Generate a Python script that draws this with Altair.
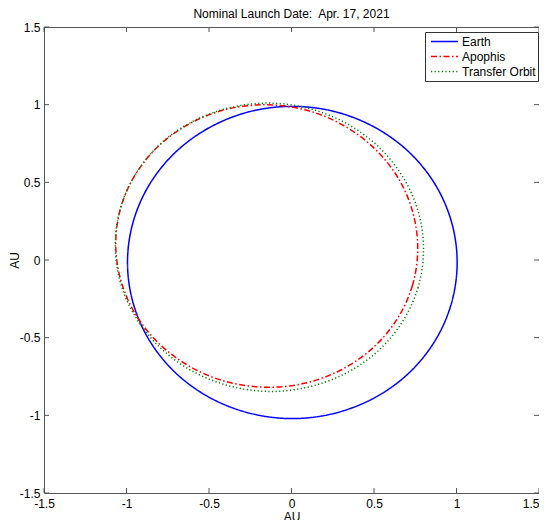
import altair as alt
import pandas as pd

# ---- data (AU), counter-clockwise ----
earth_x = [1.004, 0.97, 0.871, 0.712, 0.505, 0.264, 0.005, -0.254, -0.495, -0.702, -0.861, -0.96,
           -0.994, -0.96, -0.861, -0.702, -0.495, -0.254, 0.005, 0.264, 0.505, 0.712, 0.871, 0.97]
earth_y = [-0.016, 0.244, 0.486, 0.695, 0.854, 0.955, 0.989, 0.955, 0.854, 0.695, 0.486, 0.244,
           -0.016, -0.276, -0.518, -0.727, -0.886, -0.986, -1.021, -0.986, -0.886, -0.727, -0.518, -0.276]

apophis_x = [0.638, 0.732, 0.765, 0.736, 0.648, 0.504, 0.316, 0.096, -0.14, -0.378, -0.599, -0.79,
             -0.938, -1.032, -1.065, -1.036, -0.948, -0.804, -0.616, -0.396, -0.16, 0.078, 0.299, 0.49]
apophis_y = [-0.384, -0.167, 0.068, 0.304, 0.525, 0.717, 0.866, 0.963, 0.999, 0.974, 0.888, 0.749,
             0.564, 0.347, 0.112, -0.124, -0.345, -0.537, -0.686, -0.783, -0.819, -0.794, -0.708, -0.569]

transfer_x = [0.67, 0.766, 0.8, 0.771, 0.68, 0.534, 0.342, 0.118, -0.124, -0.365, -0.592, -0.788,
              -0.938, -1.034, -1.068, -1.039, -0.948, -0.802, -0.61, -0.386, -0.144, 0.097, 0.324, 0.52]
transfer_y = [-0.401, -0.18, 0.06, 0.301, 0.526, 0.722, 0.874, 0.972, 1.01, 0.983, 0.896, 0.754,
              0.565, 0.344, 0.104, -0.137, -0.362, -0.558, -0.71, -0.808, -0.846, -0.819, -0.732, -0.59]

series_names = ["Earth", "Apophis", "Transfer Orbit"]
series_colors = ["#0000FF", "#FF0000", "#008000"]
series_dash = [[1, 0], [6, 2.5, 1.5, 2.5], [1.2, 2.4]]
tick_values = [-1.5, -1.0, -0.5, 0.0, 0.5, 1.0, 1.5]

# ---- build tables ----
rows = []
for name, xs, ys in zip(series_names, [earth_x, apophis_x, transfer_x], [earth_y, apophis_y, transfer_y]):
    for i, (a, b) in enumerate(zip(xs, ys)):
        rows.append({"x": a, "y": b, "series": name, "order": i})
df = pd.DataFrame(rows)
ticks_df = pd.DataFrame({"x": tick_values, "y": tick_values})

W, H = 495, 466
FONT = "Liberation Sans"

xscale = alt.Scale(domain=[-1.5, 1.5], nice=False, zero=False)
yscale = alt.Scale(domain=[-1.5, 1.5], nice=False, zero=False)
xaxis = alt.Axis(values=tick_values, title="AU", grid=False, domain=False, ticks=False,
                 labelFlush=False, labelPadding=5, titlePadding=2,
                 labelExpr="'' + datum.value", labelOverlap=False,
                 labelAlign=alt.condition("datum.value == 1.5", alt.value("right"), alt.value("center")))
yaxis = alt.Axis(values=tick_values, title="AU", grid=False, domain=False, ticks=False,
                 labelFlush=False, labelPadding=4, titlePadding=-2,
                 labelExpr="'' + datum.value", labelOverlap=False)

X = alt.X("x:Q", scale=xscale, axis=xaxis)
Y = alt.Y("y:Q", scale=yscale, axis=yaxis)

lines = alt.Chart(df).mark_line(strokeWidth=1.5, interpolate="cardinal-closed").encode(
    x=X,
    y=Y,
    order="order:Q",
    color=alt.Color("series:N", scale=alt.Scale(domain=series_names, range=series_colors),
                    legend=alt.Legend(title=None)),
    strokeDash=alt.StrokeDash("series:N", scale=alt.Scale(domain=series_names, range=series_dash),
                              legend=alt.Legend(title=None)),
)

tick_color = "#555555"
tb = alt.Chart(ticks_df).mark_rule(color=tick_color, strokeWidth=1)
bottom_ticks = tb.encode(x=X, y=alt.value(H), y2=alt.value(H - 5))
top_ticks = tb.encode(x=X, y=alt.value(0), y2=alt.value(5))
left_ticks = tb.encode(y=Y, x=alt.value(0), x2=alt.value(5))
right_ticks = tb.encode(y=Y, x=alt.value(W), x2=alt.value(W - 5))

chart = alt.layer(lines, bottom_ticks, top_ticks, left_ticks, right_ticks).properties(
    width=W, height=H,
    title=alt.Title("Nominal Launch Date:\u00a0 Apr. 17, 2021", fontSize=12, font=FONT,
                    fontWeight="normal", color="black", offset=0, frame="group"),
    autosize=alt.AutoSizeParams(type="none"),
    padding={"left": 36, "top": 19, "right": 0, "bottom": 28},
).configure_view(stroke=tick_color, strokeWidth=1).configure_axis(
    labelFont=FONT, labelFontSize=12, labelColor="black",
    titleFont=FONT, titleFontSize=12, titleFontWeight="normal", titleColor="black",
).configure_legend(
    orient="none", legendX=381, legendY=5,
    strokeColor="#333333", fillColor="white", padding=2,
    symbolType="stroke", symbolSize=729, symbolStrokeWidth=1.5,
    labelFont=FONT, labelFontSize=12, labelColor="black", labelOffset=3,
    rowPadding=0, symbolOffset=3, clipHeight=15, cornerRadius=0,
)

chart.save("out.html", embed_options={"renderer": "svg", "actions": False})
